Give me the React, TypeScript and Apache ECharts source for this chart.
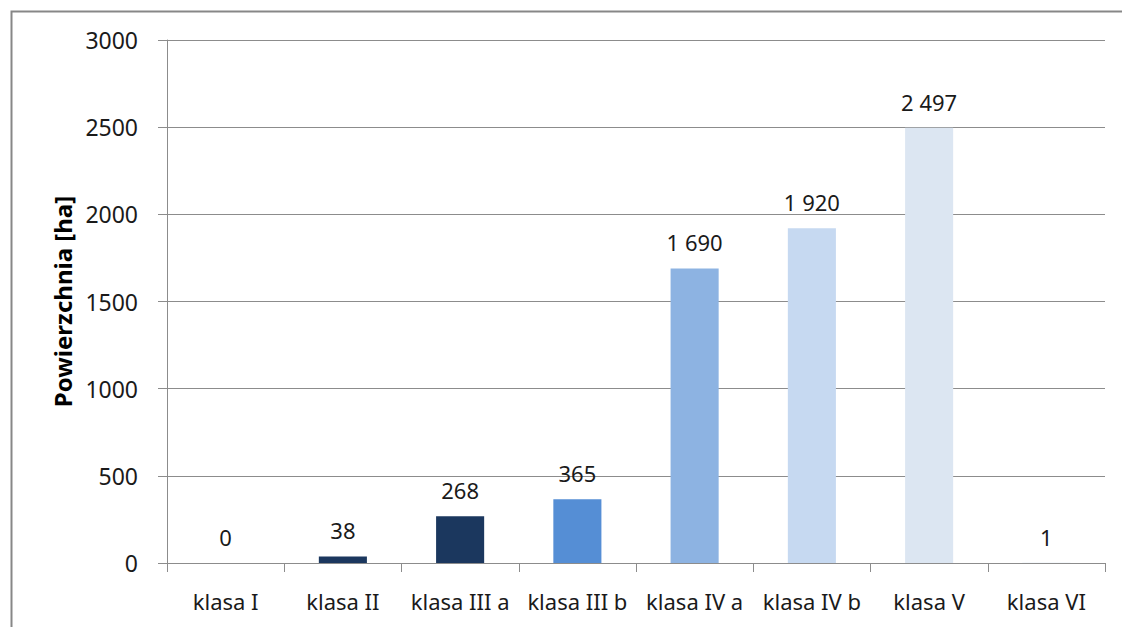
import React, { useEffect, useRef } from "react";
import * as echarts from "echarts";

const categories = ["klasa I", "klasa II", "klasa III a", "klasa III b", "klasa IV a", "klasa IV b", "klasa V", "klasa VI"];
const values = [0, 38, 268, 365, 1690, 1920, 2497, 1];
const barColors = ["#1b375e", "#1b375e", "#1b375e", "#558ed5", "#8db3e2", "#c6d9f1", "#dce6f2", "#dce6f2"];
const yTicks = { min: 0, max: 3000, interval: 500 };
const yName = "Powierzchnia [ha]";

const FONT = "'Noto Sans', 'Open Sans', sans-serif";

function fmt(v: number): string {
  return String(v).replace(/\B(?=(\d{3})+(?!\d))/g, " ");
}

export default function App() {
  const ref = useRef<HTMLDivElement>(null);
  useEffect(() => {
    if (!ref.current) return;
    const chart = echarts.init(ref.current, undefined, { renderer: "svg" });
    chart.setOption({
      animation: false,
      backgroundColor: "#ffffff",
      graphic: [
        {
          type: "rect",
          left: 9,
          top: 9,
          shape: { width: 1125, height: 640 },
          style: { fill: "none", stroke: "#878787", lineWidth: 2 },
          silent: true,
        },
      ],
      grid: { left: 167, right: 17, top: 40, bottom: 64 },
      xAxis: {
        type: "category",
        data: categories,
        axisLine: { show: true, lineStyle: { color: "#8c8c8c", width: 1 } },
        axisTick: { show: true, length: 9, alignWithLabel: false, lineStyle: { color: "#8c8c8c" } },
        axisLabel: { color: "#1a1a1a", fontSize: 22, fontFamily: FONT, margin: 27, interval: 0 },
      },
      yAxis: {
        type: "value",
        min: yTicks.min,
        max: yTicks.max,
        interval: yTicks.interval,
        name: yName,
        nameLocation: "middle",
        nameGap: 92,
        nameRotate: 90,
        nameTextStyle: { color: "#000", fontSize: 24, fontWeight: "bold", fontFamily: FONT },
        axisLine: { show: true, lineStyle: { color: "#8c8c8c", width: 1 } },
        axisTick: { show: true, length: 9, lineStyle: { color: "#8c8c8c" } },
        axisLabel: {
          color: "#1a1a1a",
          fontSize: 23,
          fontFamily: FONT,
          margin: 29,
          formatter: (v: number) => String(v),
        },
        splitLine: { show: true, lineStyle: { color: "#8c8c8c", width: 1 } },
      },
      series: [
        {
          type: "bar",
          data: values.map((v, i) => ({ value: v, itemStyle: { color: barColors[i] } })),
          barWidth: "41%",
          label: {
            show: true,
            position: "top",
            distance: 15,
            color: "#1a1a1a",
            fontSize: 22,
            fontFamily: FONT,
            formatter: (p: any) => fmt(p.value),
          },
        },
      ],
    });
    return () => chart.dispose();
  }, []);
  return (
    <div
      ref={ref}
      style={{ position: "fixed", left: 0, top: 0, width: 1122, height: 627 }}
    />
  );
}
